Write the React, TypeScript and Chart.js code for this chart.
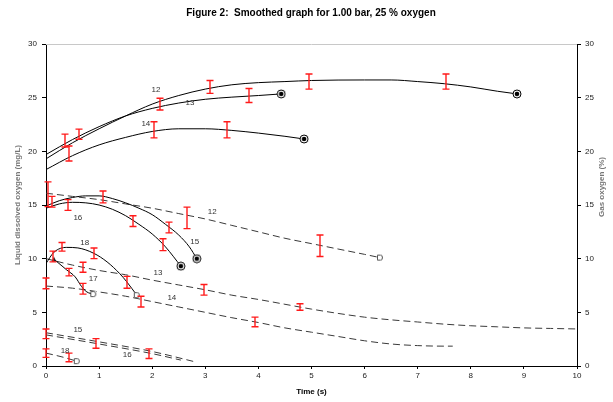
import { useEffect, useRef } from "react";
import { Chart, registerables } from "chart.js";
Chart.register(...registerables);

// ---- Data ----
const titleText = "Figure 2:  Smoothed graph for 1.00 bar, 25 % oxygen";
const xTitle = "Time (s)";
const yLeftTitle = "Liquid dissolved oxygen (mg/L)";
const yRightTitle = "Gas oxygen (%)";

// solid (liquid) curves
const s12T = [0, 0.5, 1, 1.5, 2, 2.5, 3, 3.5, 4, 4.5, 5, 6, 6.5, 7, 7.5, 8, 8.5, 8.87];
const s12Y = [19.3, 20.8, 22.1, 23.3, 24.4, 25.2, 25.8, 26.2, 26.4, 26.5, 26.6, 26.65, 26.65, 26.5, 26.3, 26.0, 25.6, 25.35];
const s13T = [0, 0.5, 1, 1.5, 2, 2.5, 3, 3.5, 4, 4.43];
const s13Y = [19.7, 21.1, 22.3, 23.3, 24.0, 24.5, 24.85, 25.05, 25.2, 25.35];
const s14T = [0, 0.5, 1, 1.5, 2, 2.5, 3, 3.5, 4, 4.5, 4.86];
const s14Y = [18.3, 19.6, 20.6, 21.3, 21.85, 22.1, 22.1, 21.95, 21.7, 21.4, 21.15];
const s15T = [0, 0.25, 0.5, 0.75, 1, 1.25, 1.5, 1.75, 2, 2.25, 2.5, 2.7, 2.84];
const s15Y = [14.9, 15.4, 15.7, 15.85, 15.85, 15.6, 15.2, 14.7, 14.1, 13.2, 12.2, 11.1, 10.0];
const s16T = [0, 0.25, 0.5, 0.75, 1, 1.25, 1.5, 1.75, 2, 2.25, 2.54];
const s16Y = [14.7, 15.1, 15.25, 15.2, 15.0, 14.6, 14.0, 13.2, 12.3, 11.1, 9.3];
const s17T = [0.15, 0.39, 0.55, 0.67, 0.77, 0.89];
const s17Y = [9.95, 8.95, 8.3, 7.4, 6.9, 6.7];
const s18T = [0, 0.15, 0.39, 0.6, 0.9, 1.15, 1.39, 1.52, 1.71];
const s18Y = [9.55, 10.6, 11.05, 11.0, 10.5, 9.7, 8.6, 7.85, 6.6];

// dashed (gas) curves
const d12T = [0, 0.5, 1, 1.5, 2, 2.5, 3, 3.5, 4, 4.5, 5, 5.5, 6, 6.29];
const d12Y = [16.1, 15.8, 15.5, 15.1, 14.7, 14.2, 13.7, 13.1, 12.5, 11.9, 11.4, 10.9, 10.4, 10.1];
const d13T = [0, 0.5, 1, 1.5, 2, 2.5, 3, 3.5, 4, 4.5, 5, 5.5, 6, 6.5, 7, 7.5, 8, 8.5, 9, 9.5, 10];
const d13Y = [10.0, 9.4, 8.9, 8.5, 8.0, 7.55, 7.1, 6.6, 6.2, 5.75, 5.3, 4.9, 4.55, 4.3, 4.1, 3.9, 3.75, 3.65, 3.55, 3.5, 3.45];
const d14T = [0, 0.5, 1, 1.5, 2, 2.5, 3, 3.5, 4, 4.5, 5, 5.5, 6, 6.5, 7, 7.5, 7.66];
const d14Y = [7.45, 7.25, 6.9, 6.5, 6.0, 5.5, 5.0, 4.5, 4.05, 3.55, 3.15, 2.75, 2.35, 2.05, 1.9, 1.85, 1.85];
const d15T = [0, 1, 2, 2.84];
const d15Y = [3.1, 2.25, 1.35, 0.35];
const d16T = [0, 1, 2, 2.54];
const d16Y = [2.9, 2.05, 1.15, 0.55];
const d18T = [0, 0.3, 0.58];
const d18Y = [1.2, 0.85, 0.45];

// error bars: time, centre, half-width
const errT = [0.36, 0.62, 0.44, 2.15, 3.09, 3.82, 4.95, 7.53, 2.03, 3.41, 0.04, 0.12, 0.42, 1.07, 2.65, 1.64, 2.2, 2.32, 5.16, 0.13, 0.3, 0.9, 1.52, 1.78, 0.0, 0.44, 0.7, 0.7, 2.97, 3.94, 4.78, 0.0, 0.94, 1.94, 0.0, 0.44];
const errY = [21.0, 21.6, 19.8, 24.4, 26.0, 25.2, 26.5, 26.5, 22.0, 22.0, 16.0, 15.3, 15.0, 15.75, 13.8, 13.5, 11.3, 12.9, 11.2, 10.2, 11.1, 10.5, 7.8, 6.0, 7.7, 8.75, 9.2, 7.2, 7.1, 4.1, 5.5, 3.0, 2.1, 1.15, 1.2, 0.8];
const errH = [0.6, 0.47, 0.7, 0.55, 0.6, 0.65, 0.7, 0.7, 0.75, 0.75, 1.15, 0.5, 0.5, 0.55, 1.0, 0.5, 0.55, 0.5, 1.0, 0.5, 0.4, 0.5, 0.55, 0.5, 0.5, 0.35, 0.47, 0.5, 0.5, 0.45, 0.3, 0.45, 0.45, 0.45, 0.4, 0.4];

// curve labels
const labText = ["12", "13", "14", "12", "16", "15", "18", "17", "13", "14", "15", "18", "16"];
const labT = [2.07, 2.71, 1.88, 3.13, 0.6, 2.8, 0.73, 0.89, 2.11, 2.37, 0.6, 0.36, 1.53];
const labY = [25.7, 24.5, 22.55, 14.35, 13.8, 11.55, 11.45, 8.1, 8.65, 6.35, 3.35, 1.4, 1.0];

const xTicksMax = 10;
const yTicksMax = 30;

function makeBullseye() {
  const c = document.createElement("canvas");
  c.width = 10; c.height = 10;
  const g = c.getContext("2d")!;
  g.fillStyle = "#fff";
  g.beginPath(); g.arc(5, 5, 4, 0, Math.PI * 2); g.fill();
  g.strokeStyle = "#000"; g.lineWidth = 1;
  g.beginPath(); g.arc(5, 5, 4, 0, Math.PI * 2); g.stroke();
  g.fillStyle = "#000";
  g.beginPath(); g.arc(5, 5, 2.3, 0, Math.PI * 2); g.fill();
  return c;
}
function makeOpen() {
  const c = document.createElement("canvas");
  c.width = 8; c.height = 8;
  const g = c.getContext("2d")!;
  g.fillStyle = "#fff";
  g.fillRect(1, 1, 6, 6);
  g.strokeStyle = "#555"; g.lineWidth = 1;
  g.beginPath();
  g.moveTo(1.5, 1.5); g.lineTo(4.5, 1.5);
  g.quadraticCurveTo(6.5, 1.5, 6.5, 4);
  g.quadraticCurveTo(6.5, 6.5, 4.5, 6.5);
  g.lineTo(1.5, 6.5); g.closePath(); g.stroke();
  return c;
}
function makeTri() {
  const c = document.createElement("canvas");
  c.width = 6; c.height = 6;
  const g = c.getContext("2d")!;
  g.fillStyle = "#222";
  g.beginPath(); g.moveTo(3, 0.5); g.lineTo(5.5, 5.5); g.lineTo(0.5, 5.5); g.closePath(); g.fill();
  return c;
}

export default function App() {
  const ref = useRef<HTMLCanvasElement | null>(null);
  useEffect(() => {
    document.body.style.margin = "0";
    const bull = makeBullseye();
    const open = makeOpen();
    const tri = makeTri();
    const mk = (t: number[], y: number[], dashed: boolean, endImg: any, startImg: any = null) => {
      const n = t.length;
      return {
        data: t.map((v, i) => ({ x: v, y: y[i] })),
        showLine: true,
        borderColor: dashed ? "#3a3a3a" : "#000",
        borderWidth: 1,
        borderDash: dashed ? [7, 4] : [],
        tension: 0.4,
        cubicInterpolationMode: "monotone",
        fill: false,
        pointRadius: (c: any) => ((c.dataIndex === n - 1 && endImg) || (c.dataIndex === 0 && startImg) ? 4 : 0),
        pointStyle: (c: any) => (c.dataIndex === n - 1 && endImg ? endImg : c.dataIndex === 0 && startImg ? startImg : "circle"),
        pointHoverRadius: 0,
        backgroundColor: "#000",
      };
    };
    const datasets: any[] = [
      mk(s12T, s12Y, false, bull),
      mk(s13T, s13Y, false, bull),
      mk(s14T, s14Y, false, bull),
      mk(s15T, s15Y, false, bull),
      mk(s16T, s16Y, false, bull),
      mk(s17T, s17Y, false, open, tri),
      mk(s18T, s18Y, false, open),
      mk(d12T, d12Y, true, open),
      mk(d13T, d13Y, true, null),
      mk(d14T, d14Y, true, null),
      mk(d15T, d15Y, true, null),
      mk(d16T, d16Y, true, null),
      mk(d18T, d18Y, true, open),
    ];

    const FONT = "'Liberation Sans', Arial, sans-serif";
    const overlay = {
      id: "overlay",
      afterDatasetsDraw(chart: any) {
        const { ctx, chartArea: a, scales } = chart;
        const xs = scales.x, ys = scales.y;
        ctx.save();
        ctx.setLineDash([]);
        // top border
        ctx.strokeStyle = "#c8c8c8"; ctx.lineWidth = 1;
        ctx.beginPath(); ctx.moveTo(a.left, a.top + 0.5); ctx.lineTo(a.right, a.top + 0.5); ctx.stroke();
        // error bars
        ctx.strokeStyle = "#ff1a1a"; ctx.lineWidth = 1.4;
        for (let i = 0; i < errT.length; i++) {
          const px = Math.round(xs.getPixelForValue(errT[i]));
          const y1 = ys.getPixelForValue(errY[i] + errH[i]);
          const y2 = ys.getPixelForValue(errY[i] - errH[i]);
          ctx.beginPath();
          ctx.moveTo(px, y1); ctx.lineTo(px, y2);
          ctx.moveTo(px - 3.5, y1); ctx.lineTo(px + 3.5, y1);
          ctx.moveTo(px - 3.5, y2); ctx.lineTo(px + 3.5, y2);
          ctx.stroke();
        }
        // curve labels
        ctx.fillStyle = "#333";
        ctx.font = `8px ${FONT}`;
        ctx.textAlign = "center"; ctx.textBaseline = "middle";
        for (let i = 0; i < labText.length; i++) {
          ctx.fillText(labText[i], xs.getPixelForValue(labT[i]), ys.getPixelForValue(labY[i]));
        }
        ctx.restore();
      },
      afterDraw(chart: any) {
        const { ctx, chartArea: a } = chart;
        ctx.save();
        ctx.fillStyle = "#000";
        ctx.font = `bold 10px ${FONT}`;
        ctx.textAlign = "center"; ctx.textBaseline = "middle";
        ctx.fillText(titleText, 311, 13);
        ctx.font = `bold 8px ${FONT}`;
        ctx.fillText(xTitle, (a.left + a.right) / 2, 392);
        ctx.fillStyle = "#777";
        ctx.save();
        ctx.translate(18, 205); ctx.rotate(-Math.PI / 2);
        ctx.fillText(yLeftTitle, 0, 0);
        ctx.restore();
        ctx.save();
        ctx.translate(602, 187); ctx.rotate(-Math.PI / 2);
        ctx.fillText(yRightTitle, 0, 0);
        ctx.restore();
        ctx.restore();
      },
    };

    const tickFont = { family: FONT, size: 8 };
    const chart = new Chart(ref.current!, {
      type: "scatter",
      data: { datasets },
      options: {
        animation: false,
        responsive: false,
        maintainAspectRatio: false,
        layout: { padding: { top: 44, left: 0, right: 0, bottom: 0 } },
        plugins: { legend: { display: false }, tooltip: { enabled: false }, title: { display: false } },
        events: [],
        scales: {
          x: {
            type: "linear", min: 0, max: xTicksMax,
            ticks: { stepSize: 1, color: "#222", font: tickFont, padding: 2 },
            grid: { drawOnChartArea: false, drawTicks: true, tickLength: 3, color: "#000" },
            border: { color: "#000", width: 1 },
            afterFit: (s: any) => { s.height = 36; },
          },
          y: {
            type: "linear", position: "left", min: 0, max: yTicksMax,
            ticks: { stepSize: 5, color: "#222", font: tickFont, padding: 5 },
            grid: { drawOnChartArea: false, drawTicks: true, tickLength: 4, color: "#000" },
            border: { color: "#000", width: 1 },
            afterFit: (s: any) => { s.width = 46; },
          },
          y2: {
            type: "linear", position: "right", min: 0, max: yTicksMax,
            ticks: { stepSize: 5, color: "#222", font: tickFont, padding: 4 },
            grid: { drawOnChartArea: false, drawTicks: true, tickLength: 4, color: "#000" },
            border: { color: "#000", width: 1 },
            afterFit: (s: any) => { s.width = 36; },
          },
        },
      },
      plugins: [overlay],
    } as any);
    return () => chart.destroy();
  }, []);
  return (
    <div style={{ width: 613, height: 402, background: "#fff" }}>
      <canvas ref={ref} width={613} height={402} style={{ display: "block", width: 613, height: 402 }} />
    </div>
  );
}
